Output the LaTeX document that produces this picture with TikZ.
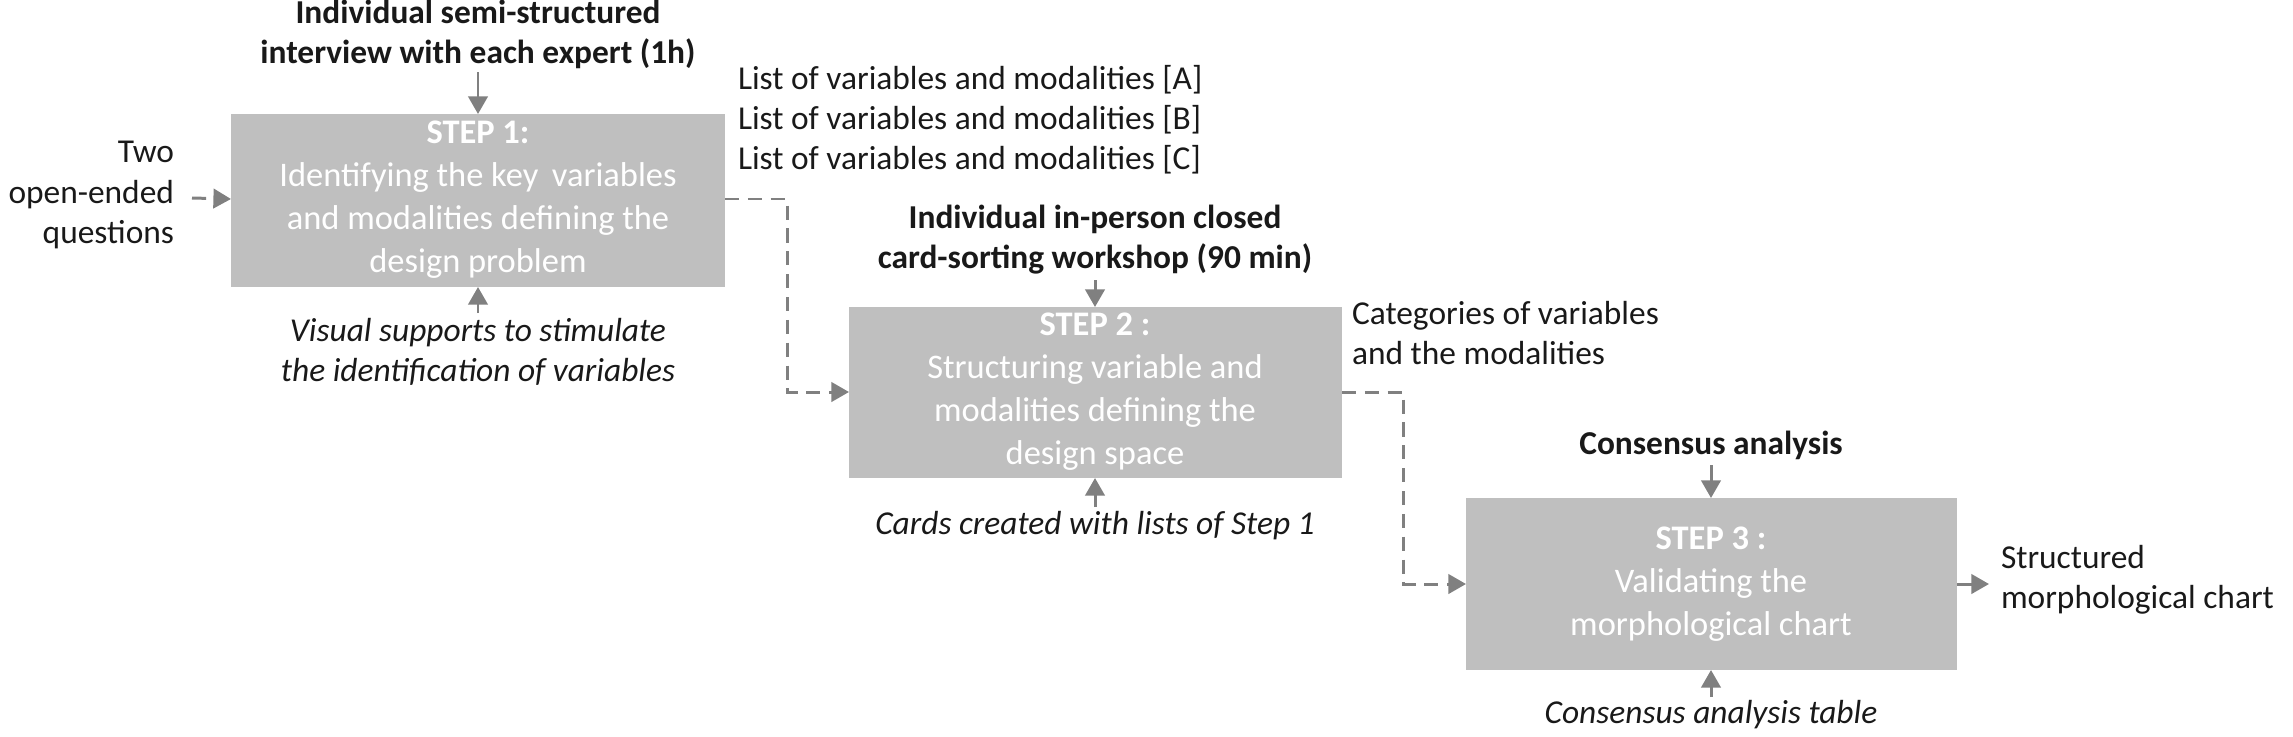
\documentclass[tikz,border=0pt]{standalone}
\usepackage{fontspec}
\setmainfont{Carlito}
\usetikzlibrary{arrows.meta}
\begin{document}
\begin{tikzpicture}[x=0.01cm,y=-0.01cm,
  every node/.style={inner sep=0pt,outer sep=0pt,font=\fontsize{9.5}{11.4}\selectfont},
  box/.style={fill=black!25,text=white,align=center,font=\fontsize{9.8}{12.2}\selectfont},
  lab/.style={align=center,text=black!90},
  arr/.style={draw=black!50,line width=0.85pt,-{Triangle[length=5pt,width=5.5pt]}},
  dsh/.style={arr,dash pattern=on 4pt off 2.5pt}]
\useasboundingbox (0,0) rectangle (2293,736);
% boxes
\fill[black!25] (231,114) rectangle (725,287);
\node[box] (b1) at (478,200) {\textbf{STEP 1:}\\Identifying the key\, variables\\and modalities defining the\\design problem};
\coordinate (b1t) at (478,114); \coordinate (b1b) at (478,287); \coordinate (b1l) at (231,199); \coordinate (b1r) at (725,199);
\fill[black!25] (849,307) rectangle (1342,478);
\node[box] (b2) at (1095,392) {\textbf{STEP 2 :}\\Structuring variable and\\modalities defining the\\design space};
\coordinate (b2t) at (1095,307); \coordinate (b2b) at (1095,478); \coordinate (b2l) at (849,392); \coordinate (b2r) at (1342,392);
\fill[black!25] (1466,498) rectangle (1957,670);
\node[box] (b3) at (1711,584) {\textbf{STEP 3 :}\\Validating the\\morphological chart};
\coordinate (b3t) at (1711,498); \coordinate (b3b) at (1711,670); \coordinate (b3l) at (1466,584); \coordinate (b3r) at (1957,584);
% labels
\node[lab,font=\fontsize{9.5}{11.4}\bfseries] (t1) at (478,34) {Individual semi-structured\\interview with each expert (1h)};
\node[lab,font=\fontsize{9.5}{11.4}\itshape] (u1) at (478,352) {Visual supports to stimulate\\the identification of variables};
\node[lab,align=right,anchor=east] (l1) at (174,195) {Two\\open-ended\\questions};
\node[lab,align=left,anchor=west] (r1) at (738,120) {List of variables and modalities [A]\\List of variables and modalities [B]\\List of variables and modalities [C]};
\node[lab,font=\fontsize{9.5}{11.4}\bfseries] (t2) at (1095,240) {Individual in-person closed\\card-sorting workshop (90 min)};
\node[lab,font=\fontsize{9.5}{11.4}\itshape] (u2) at (1095,526) {Cards created with lists of Step 1};
\node[lab,align=left,anchor=west] (r2) at (1352,333) {Categories of variables\\and the modalities};
\node[lab,font=\fontsize{9.5}{11.4}\bfseries] (t3) at (1711,445) {Consensus analysis};
\node[lab,font=\fontsize{9.5}{11.4}\itshape] (u3) at (1711,715) {Consensus analysis table};
\node[lab,align=left,anchor=west] (r3) at (2001,580) {Structured\\morphological chart};
% arrows
\coordinate (a1) at (478,72); \draw[arr] (a1) -- (b1t);
\coordinate (a2) at (478,313); \draw[arr] (a2) -- (b1b);
\coordinate (a3) at (1095,280); \draw[arr] (a3) -- (b2t);
\coordinate (a4) at (1095,507); \draw[arr] (a4) -- (b2b);
\coordinate (a5) at (1711,465); \draw[arr] (a5) -- (b3t);
\coordinate (a6) at (1711,697); \draw[arr] (a6) -- (b3b);
\coordinate (a7) at (1989,584); \draw[arr] (b3r) -- (a7);
\coordinate (a8) at (192,198); \draw[dsh] (a8) -- (b1l);
\draw[dsh] (b1r) -- (787,199) -- (787,392) -- (b2l);
\draw[dsh] (b2r) -- (1403,392) -- (1403,584) -- (b3l);
\end{tikzpicture}
\end{document}
